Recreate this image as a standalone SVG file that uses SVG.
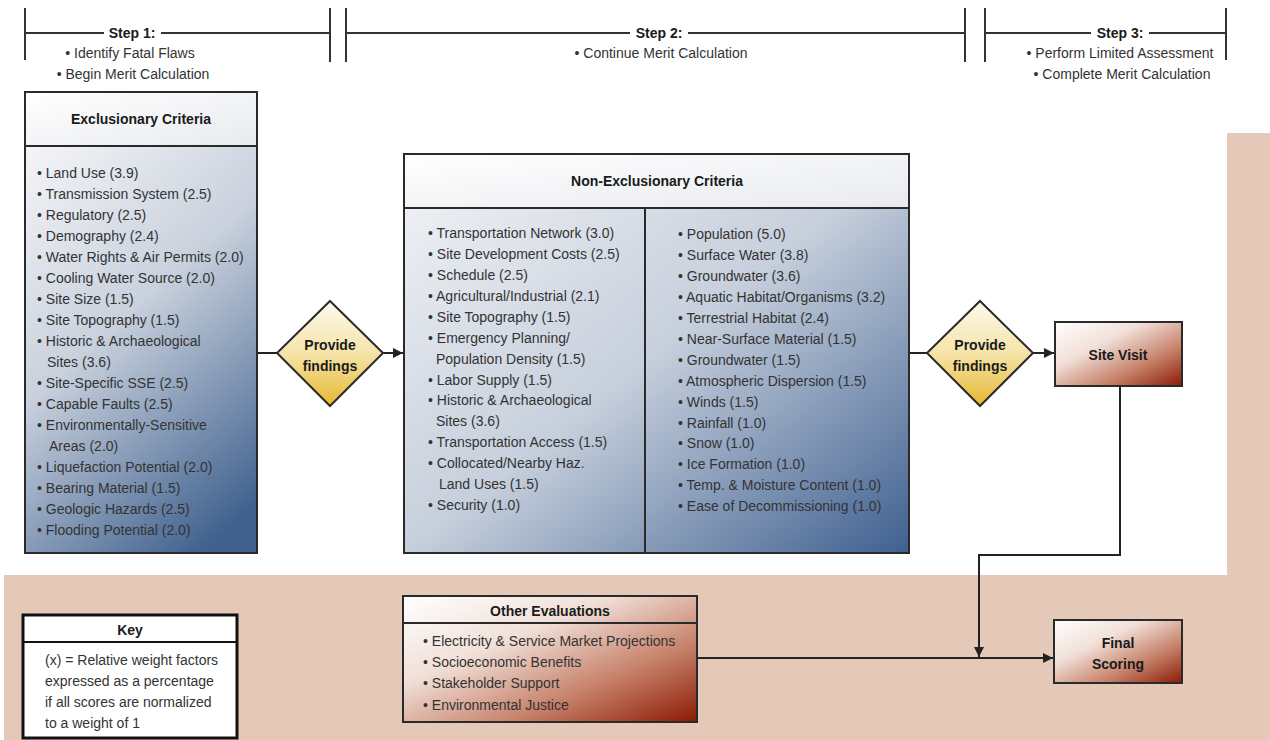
<svg xmlns="http://www.w3.org/2000/svg" width="1270" height="740" viewBox="0 0 1270 740">
<style>
.t{font-family:"Liberation Sans",Arial,sans-serif;font-size:14px;fill:#333}
.b{font-family:"Liberation Sans",Arial,sans-serif;font-size:14px;font-weight:bold;fill:#1a1a1a;text-anchor:middle}
.c{text-anchor:middle}
.hl{stroke:#333;stroke-width:2;fill:none}
.box{stroke:#2a2a2a;stroke-width:2}
.cn{stroke:#222;stroke-width:2;fill:none}
</style>
<defs>
<linearGradient id="blue" x1="0" y1="0" x2="1" y2="1">
<stop offset="0" stop-color="#f3f4f7"/>
<stop offset="0.5" stop-color="#c6cfdc"/>
<stop offset="1" stop-color="#3f6090"/>
</linearGradient>
<linearGradient id="blueV" x1="0.3" y1="0" x2="0.75" y2="1">
<stop offset="0" stop-color="#f3f4f7"/>
<stop offset="0.45" stop-color="#c9d1dd"/>
<stop offset="1" stop-color="#41628f"/>
</linearGradient>
<linearGradient id="hdr" x1="0" y1="0" x2="1" y2="1">
<stop offset="0" stop-color="#ffffff"/>
<stop offset="1" stop-color="#e8eaee"/>
</linearGradient>
<linearGradient id="red" x1="0" y1="0" x2="1" y2="1">
<stop offset="0" stop-color="#ffffff"/>
<stop offset="0.35" stop-color="#f1e0d8"/>
<stop offset="0.7" stop-color="#c47c64"/>
<stop offset="1" stop-color="#8a1a05"/>
</linearGradient>
<linearGradient id="gold" x1="0" y1="0" x2="0" y2="1">
<stop offset="0" stop-color="#fdfaee"/>
<stop offset="0.5" stop-color="#f5e3a8"/>
<stop offset="1" stop-color="#e6b830"/>
</linearGradient>
<marker id="arr" markerUnits="userSpaceOnUse" markerWidth="11" markerHeight="11" refX="10" refY="5" orient="auto">
<path d="M0,0 L10,5 L0,10 Z" fill="#222"/>
</marker>
</defs>
<rect x="0" y="0" width="1270" height="740" fill="#ffffff"/>
<path d="M4,575 H1227 V133 H1270 V740 H4 Z" fill="#e5c9b8"/>

<g id="header">
<path class="hl" d="M25,8 V60 M25,33 H104 M161,33 H330 M330,8 V62 M346,8 V62 M346,33 H630 M688,33 H965 M965,8 V62 M985,8 V62 M985,33 H1091 M1149,33 H1226 M1226,8 V60"/>
<text class="b" x="132" y="38">Step 1:</text>
<text class="t c" x="130" y="58">• Identify Fatal Flaws</text>
<text class="t c" x="133" y="79">• Begin Merit Calculation</text>
<text class="b" x="659" y="38">Step 2:</text>
<text class="t c" x="661" y="58">• Continue Merit Calculation</text>
<text class="b" x="1120" y="38">Step 3:</text>
<text class="t c" x="1120" y="58">• Perform Limited Assessment</text>
<text class="t c" x="1122" y="79">• Complete Merit Calculation</text>
</g>

<g id="connectors">
<path class="cn" d="M257,353 H277"/>
<path class="cn" d="M383,353 H403" marker-end="url(#arr)"/>
<path class="cn" d="M909,353 H927"/>
<path class="cn" d="M1033,353 H1054" marker-end="url(#arr)"/>
<path class="cn" d="M1120,386 V555 H979 V657" marker-end="url(#arr)"/>
<path class="cn" d="M697,658 H1053" marker-end="url(#arr)"/>
</g>

<g id="exclusionary">
<rect class="box" x="25" y="92" width="232" height="461" fill="url(#blueV)"/>
<rect class="box" x="25" y="92" width="232" height="54" fill="url(#hdr)"/>
<text class="b" x="141" y="124">Exclusionary Criteria</text>
<text class="t" x="37" y="178">• Land Use (3.9)</text>
<text class="t" x="37" y="199">• Transmission System (2.5)</text>
<text class="t" x="37" y="220">• Regulatory (2.5)</text>
<text class="t" x="37" y="241">• Demography (2.4)</text>
<text class="t" x="37" y="262">• Water Rights &amp; Air Permits (2.0)</text>
<text class="t" x="37" y="283">• Cooling Water Source (2.0)</text>
<text class="t" x="37" y="304">• Site Size (1.5)</text>
<text class="t" x="37" y="325">• Site Topography (1.5)</text>
<text class="t" x="37" y="346">• Historic &amp; Archaeological</text>
<text class="t" x="47" y="367">Sites (3.6)</text>
<text class="t" x="37" y="388">• Site-Specific SSE (2.5)</text>
<text class="t" x="37" y="409">• Capable Faults (2.5)</text>
<text class="t" x="37" y="430">• Environmentally-Sensitive</text>
<text class="t" x="49" y="451">Areas (2.0)</text>
<text class="t" x="37" y="472">• Liquefaction Potential (2.0)</text>
<text class="t" x="37" y="493">• Bearing Material (1.5)</text>
<text class="t" x="37" y="514">• Geologic Hazards (2.5)</text>
<text class="t" x="37" y="535">• Flooding Potential (2.0)</text>
</g>

<g id="diamond1">
<path class="box" d="M330,301 L383,353 L330,406 L277,353 Z" fill="url(#gold)"/>
<text class="b" x="330" y="350">Provide</text>
<text class="b" x="330" y="371">findings</text>
</g>

<g id="nonexclusionary">
<rect class="box" x="404" y="154" width="505" height="399" fill="url(#blue)"/>
<rect class="box" x="404" y="154" width="505" height="54" fill="url(#hdr)"/>
<path class="box" d="M645,208 V553"/>
<text class="b" x="657" y="186">Non-Exclusionary Criteria</text>
<text class="t" x="428" y="238">• Transportation Network (3.0)</text>
<text class="t" x="428" y="259">• Site Development Costs (2.5)</text>
<text class="t" x="428" y="280">• Schedule (2.5)</text>
<text class="t" x="428" y="301">• Agricultural/Industrial (2.1)</text>
<text class="t" x="428" y="322">• Site Topography (1.5)</text>
<text class="t" x="428" y="343">• Emergency Planning/</text>
<text class="t" x="436" y="364">Population Density (1.5)</text>
<text class="t" x="428" y="385">• Labor Supply (1.5)</text>
<text class="t" x="428" y="405">• Historic &amp; Archaeological</text>
<text class="t" x="436" y="426">Sites (3.6)</text>
<text class="t" x="428" y="447">• Transportation Access (1.5)</text>
<text class="t" x="428" y="468">• Collocated/Nearby Haz.</text>
<text class="t" x="439" y="489">Land Uses (1.5)</text>
<text class="t" x="428" y="510">• Security (1.0)</text>
<text class="t" x="678" y="239">• Population (5.0)</text>
<text class="t" x="678" y="260">• Surface Water (3.8)</text>
<text class="t" x="678" y="281">• Groundwater (3.6)</text>
<text class="t" x="678" y="302">• Aquatic Habitat/Organisms (3.2)</text>
<text class="t" x="678" y="323">• Terrestrial Habitat (2.4)</text>
<text class="t" x="678" y="344">• Near-Surface Material (1.5)</text>
<text class="t" x="678" y="365">• Groundwater (1.5)</text>
<text class="t" x="678" y="386">• Atmospheric Dispersion (1.5)</text>
<text class="t" x="678" y="407">• Winds (1.5)</text>
<text class="t" x="678" y="428">• Rainfall (1.0)</text>
<text class="t" x="678" y="448">• Snow (1.0)</text>
<text class="t" x="678" y="469">• Ice Formation (1.0)</text>
<text class="t" x="678" y="490">• Temp. &amp; Moisture Content (1.0)</text>
<text class="t" x="678" y="511">• Ease of Decommissioning (1.0)</text>
</g>

<g id="diamond2">
<path class="box" d="M980,301 L1033,353 L980,406 L927,353 Z" fill="url(#gold)"/>
<text class="b" x="980" y="350">Provide</text>
<text class="b" x="980" y="371">findings</text>
</g>

<g id="sitevisit">
<rect class="box" x="1055" y="322" width="127" height="64" fill="url(#red)"/>
<text class="b" x="1118" y="360">Site Visit</text>
</g>

<g id="key">
<rect x="23" y="615" width="214" height="123" fill="#ffffff" stroke="#111" stroke-width="3"/>
<path d="M23,642 H237" stroke="#111" stroke-width="2"/>
<text class="b" x="130" y="635">Key</text>
<text class="t" x="45" y="665">(x) = Relative weight factors</text>
<text class="t" x="45" y="686">expressed as a percentage</text>
<text class="t" x="45" y="707">if all scores are normalized</text>
<text class="t" x="45" y="728">to a weight of 1</text>
</g>

<g id="otherevaluations">
<rect class="box" x="403" y="596" width="294" height="126" fill="url(#red)"/>
<path class="box" d="M403,623 H697"/>
<text class="b" x="550" y="616">Other Evaluations</text>
<text class="t" x="423" y="646">• Electricity &amp; Service Market Projections</text>
<text class="t" x="423" y="667">• Socioeconomic Benefits</text>
<text class="t" x="423" y="688">• Stakeholder Support</text>
<text class="t" x="423" y="710">• Environmental Justice</text>
</g>

<g id="finalscoring">
<rect class="box" x="1054" y="620" width="128" height="63" fill="url(#red)"/>
<text class="b" x="1118" y="648">Final</text>
<text class="b" x="1118" y="669">Scoring</text>
</g>
</svg>
